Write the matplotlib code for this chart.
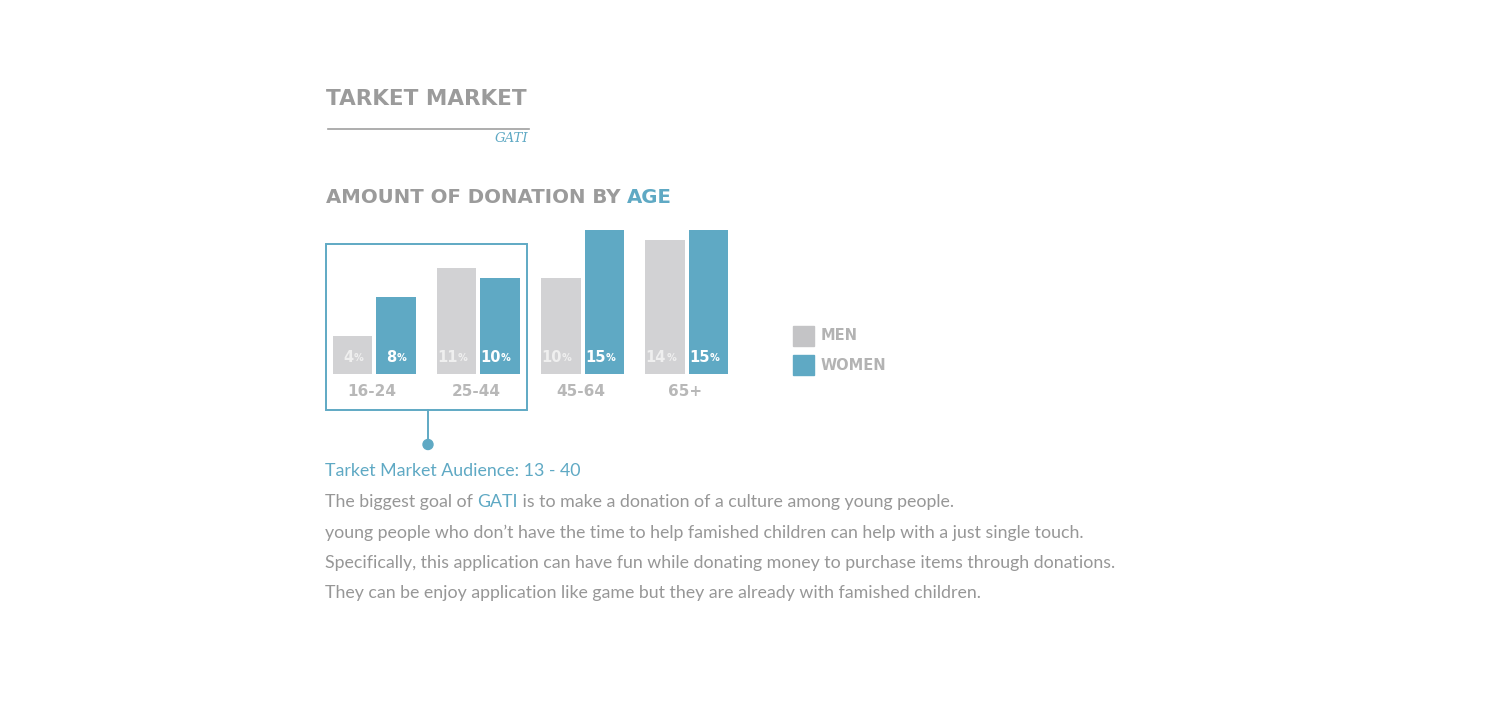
import numpy as np
import matplotlib
matplotlib.use("Agg")
from matplotlib import pyplot as plt
from matplotlib.patches import Rectangle, Circle

# dados do grafico
faixas = ["16-24", "25-44", "45-64", "65+"]
homens = [4, 11, 10, 14]
mulheres = [8, 10, 15, 15]
legenda = ["MEN", "WOMEN"]

texto = [
    "young people who don\u2019t have the time to help famished children can help with a just single touch.",
    "Specifically, this application can have fun while donating money to purchase items through donations.",
    "They can be enjoy application like game but they are already with famished children.",
]

cinza_barra = "#d2d2d4"
azul = "#5fa9c4"
cinza_titulo = "#9b9b9b"
cinza_texto = "#979797"
cinza_rotulo = "#b8b8b8"

W, H = 1500, 702
fig = plt.figure(figsize=(15, 7.02), dpi=100)
fig.patch.set_facecolor("white")

# eixo de fundo em pixels (so para textos e enfeites)
bg = fig.add_axes([0, 0, 1, 1])
bg.set_xlim(0, W)
bg.set_ylim(H, 0)
bg.axis("off")

fonte = "Lato"
titulo = "DejaVu Sans"

bg.text(326, 99, "TARKET MARKET", fontsize=15.5, fontweight="bold", family=titulo,
        color=cinza_titulo, va="center", ha="left")
bg.plot([328, 529], [128.5, 128.5], color="#a0a0a0", lw=1.2)
bg.text(528, 138, "GATI", fontsize=9.5, style="italic", family="DejaVu Serif",
        color=azul, va="center", ha="right")

t1 = bg.text(326, 197.5, "AMOUNT OF DONATION BY ", fontsize=14.2, fontweight="bold",
             family=titulo, color=cinza_titulo, va="center", ha="left")
fig.canvas.draw()
x_age = t1.get_window_extent().x1
bg.text(x_age, 197.5, "AGE", fontsize=14.2, fontweight="bold", family=titulo,
        color=azul, va="center", ha="left")

# eixo das barras
base_px = 374
px_por = 9.6
esp = 104.3
c0 = 374
ax_l, ax_r = 322, 740
ymax = 16
ax = fig.add_axes([ax_l / W, (H - base_px) / H, (ax_r - ax_l) / W, ymax * px_por / H])
ax.set_xlim((ax_l - c0) / esp, (ax_r - c0) / esp)
ax.set_ylim(0, ymax)
ax.axis("off")

x = np.arange(len(faixas))
larg = 39.5 / esp
desl = (39.5 + 4) / 2 / esp
ax.bar(x - desl, homens, width=larg, color=cinza_barra)
ax.bar(x + desl, mulheres, width=larg, color=azul)

for i in range(len(faixas)):
    for xx, v, cor in [(x[i] - desl, homens[i], "#efefef"), (x[i] + desl, mulheres[i], "white")]:
        ax.annotate(str(v), xy=(xx, 0), xytext=(1, 17), textcoords="offset pixels",
                    ha="right", va="center", fontsize=10.5, fontweight="bold", family=titulo, color=cor)
        ax.annotate("%", xy=(xx, 0), xytext=(1, 16), textcoords="offset pixels",
                    ha="left", va="center", fontsize=7, fontweight="bold", family=titulo, color=cor)
    ax.annotate(faixas[i], xy=(x[i], 0), xytext=(-2, -18), textcoords="offset pixels",
                ha="center", va="center", fontsize=11, fontweight="bold", family=titulo,
                color=cinza_rotulo, annotation_clip=False)

# caixa do publico alvo
bg.add_patch(Rectangle((325.5, 243.5), 201.5, 166.5, fill=False, ec=azul, lw=1.4))
bg.plot([428, 428], [410, 444], color=azul, lw=1.4)
bg.add_patch(Circle((428, 444.5), 5, color=azul))

# legenda
for k, (nome, cor) in enumerate(zip(legenda, ["#c4c4c6", azul])):
    y0 = 326 + k * 29
    bg.add_patch(Rectangle((793, y0), 21, 19.5, color=cor))
    bg.text(821, y0 + 10, nome, fontsize=10.5, fontweight="bold", family=titulo,
            color="#b3b3b3", va="center", ha="left")

# texto (alinhado pela linha de base)
fs = 12.8
bg.text(325, 476, "Tarket Market Audience: 13 - 40", fontsize=fs,
        family=fonte, color=azul, va="baseline", ha="left")
a = bg.text(325, 507, "The biggest goal of ", fontsize=fs, family=fonte,
            color=cinza_texto, va="baseline", ha="left")
fig.canvas.draw()
xa = a.get_window_extent().x1
b = bg.text(xa, 507, "GATI", fontsize=fs, family=fonte,
            color=azul, va="baseline", ha="left")
fig.canvas.draw()
xb = b.get_window_extent().x1
bg.text(xb, 507, " is to make a donation of a culture among young people.", fontsize=fs,
        family=fonte, color=cinza_texto, va="baseline", ha="left")
for j, linha in enumerate(texto):
    bg.text(325, 538 + j * 30.2, linha, fontsize=fs, family=fonte,
            color=cinza_texto, va="baseline", ha="left")

fig.savefig("out.png", dpi=100, facecolor="white")
